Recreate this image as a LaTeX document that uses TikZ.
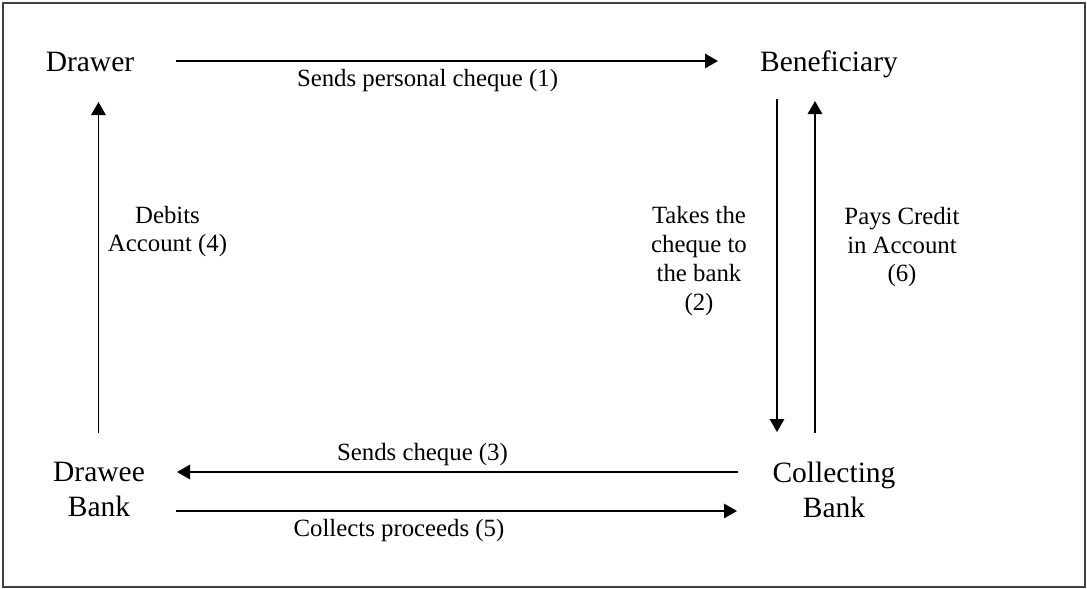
\documentclass[tikz,border=0pt]{standalone}
\usepackage{fontspec}
\setmainfont{Liberation Serif}
\usetikzlibrary{arrows.meta}
\begin{document}
\begin{tikzpicture}[x=1pt,y=-1pt,
  party/.style={inner sep=0pt, anchor=base, align=center, font=\fontsize{29.5}{35}\selectfont},
  lbl/.style={inner sep=0pt, anchor=base, align=center, font=\fontsize{24.8}{28.7}\selectfont},
  arr/.style={line width=1.6pt, -{Triangle[length=13pt,width=14.5pt]}}]
\useasboundingbox (0,0) rectangle (1087,589);
\draw[line width=1.5pt, black!75] (3,3) rectangle (1085,587);
% parties
\node[party] (drawer) at (90,71.7) {Drawer};
\node[party] (benef) at (829,71.7) {Beneficiary};
\node[party] (drawee) at (99,516.7) {Drawee\\Bank};
\node[party] (collect) at (834,517.3) {Collecting\\Bank};
% arrow endpoints
\coordinate (a1s) at (176,61);
\coordinate (a1e) at (718,61);
\coordinate (a2s) at (777,99);
\coordinate (a2e) at (777,432);
\coordinate (a6s) at (815,433);
\coordinate (a6e) at (815,101);
\coordinate (a3s) at (738,472);
\coordinate (a3e) at (177,472);
\coordinate (a5s) at (176,511);
\coordinate (a5e) at (737,511);
\coordinate (a4s) at (98.5,433);
\coordinate (a4e) at (98.5,102);
\draw[arr] (a1s) -- (a1e);
\draw[arr] (a2s) -- (a2e);
\draw[arr] (a6s) -- (a6e);
\draw[arr] (a3s) -- (a3e);
\draw[arr] (a5s) -- (a5e);
\draw[arr] (a4s) -- (a4e);
% labels
\node[lbl] (l1) at (427.5,86.7) {Sends personal cheque (1)};
\node[lbl] (l4) at (167.5,251.7) {Debits\\Account (4)};
\node[lbl] (l2) at (699,310) {Takes the\\cheque to\\the bank\\(2)};
\node[lbl] (l6) at (902,281.7) {Pays Credit\\in Account\\(6)};
\node[lbl] (l3) at (422.5,460) {Sends cheque (3)};
\node[lbl] (l5) at (399,536) {Collects proceeds (5)};
\end{tikzpicture}
\end{document}
